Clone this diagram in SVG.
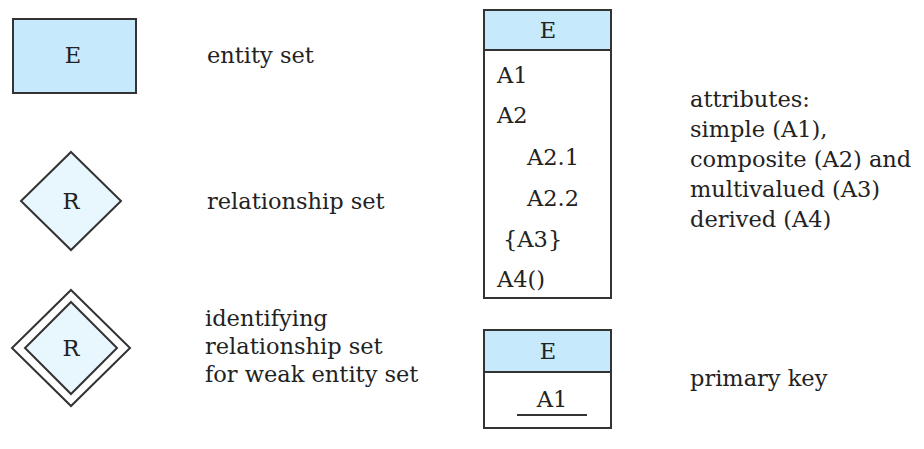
<svg xmlns="http://www.w3.org/2000/svg" width="924" height="449" viewBox="0 0 924 449">
<style>
text{font-family:"DejaVu Serif","Liberation Serif",serif;font-size:22.5px;fill:#222}
.shape{stroke:#333;stroke-width:2}
.ent{fill:#c6e9fc}
.rel{fill:#e8f6fd}
.body{fill:#fff}
.c{text-anchor:middle}
</style>
<rect width="924" height="449" fill="#fff"/>
<g id="entity-set">
<rect class="shape ent" x="13" y="19" width="123" height="74"/>
<text class="c" x="73" y="63">E</text>
<text x="207" y="63">entity set</text>
</g>
<g id="relationship-set">
<polygon class="shape rel" points="71,152 121,201 71,250 21,201"/>
<text class="c" x="71" y="209">R</text>
<text x="207" y="209">relationship set</text>
</g>
<g id="identifying-relationship-set">
<polygon class="shape" fill="#fff" points="71,290 130,348 71,406 12,348"/>
<polygon class="shape rel" points="71,302 117,348 71,394 25,348"/>
<text class="c" x="71" y="356">R</text>
<text x="205" y="326">identifying</text>
<text x="205" y="354">relationship set</text>
<text x="205" y="382">for weak entity set</text>
</g>
<g id="attributes">
<rect class="shape body" x="484" y="10" width="127" height="288"/>
<rect class="shape ent" x="484" y="10" width="127" height="40"/>
<text class="c" x="548" y="38">E</text>
<text x="497" y="83">A1</text>
<text x="497" y="123">A2</text>
<text x="527" y="165">A2.1</text>
<text x="527" y="206">A2.2</text>
<text x="503" y="247">{A3}</text>
<text x="497" y="287">A4()</text>
<text x="690" y="107">attributes:</text>
<text x="690" y="137">simple (A1),</text>
<text x="690" y="167">composite (A2) and</text>
<text x="690" y="197">multivalued (A3)</text>
<text x="690" y="227">derived (A4)</text>
</g>
<g id="primary-key">
<rect class="shape body" x="484" y="330" width="127" height="98"/>
<rect class="shape ent" x="484" y="330" width="127" height="42"/>
<text class="c" x="548" y="359">E</text>
<text class="c" x="552" y="407">A1</text>
<line class="shape" x1="517" y1="415" x2="587" y2="415"/>
<text x="690" y="386">primary key</text>
</g>
<g id="connectors"/>
</svg>
